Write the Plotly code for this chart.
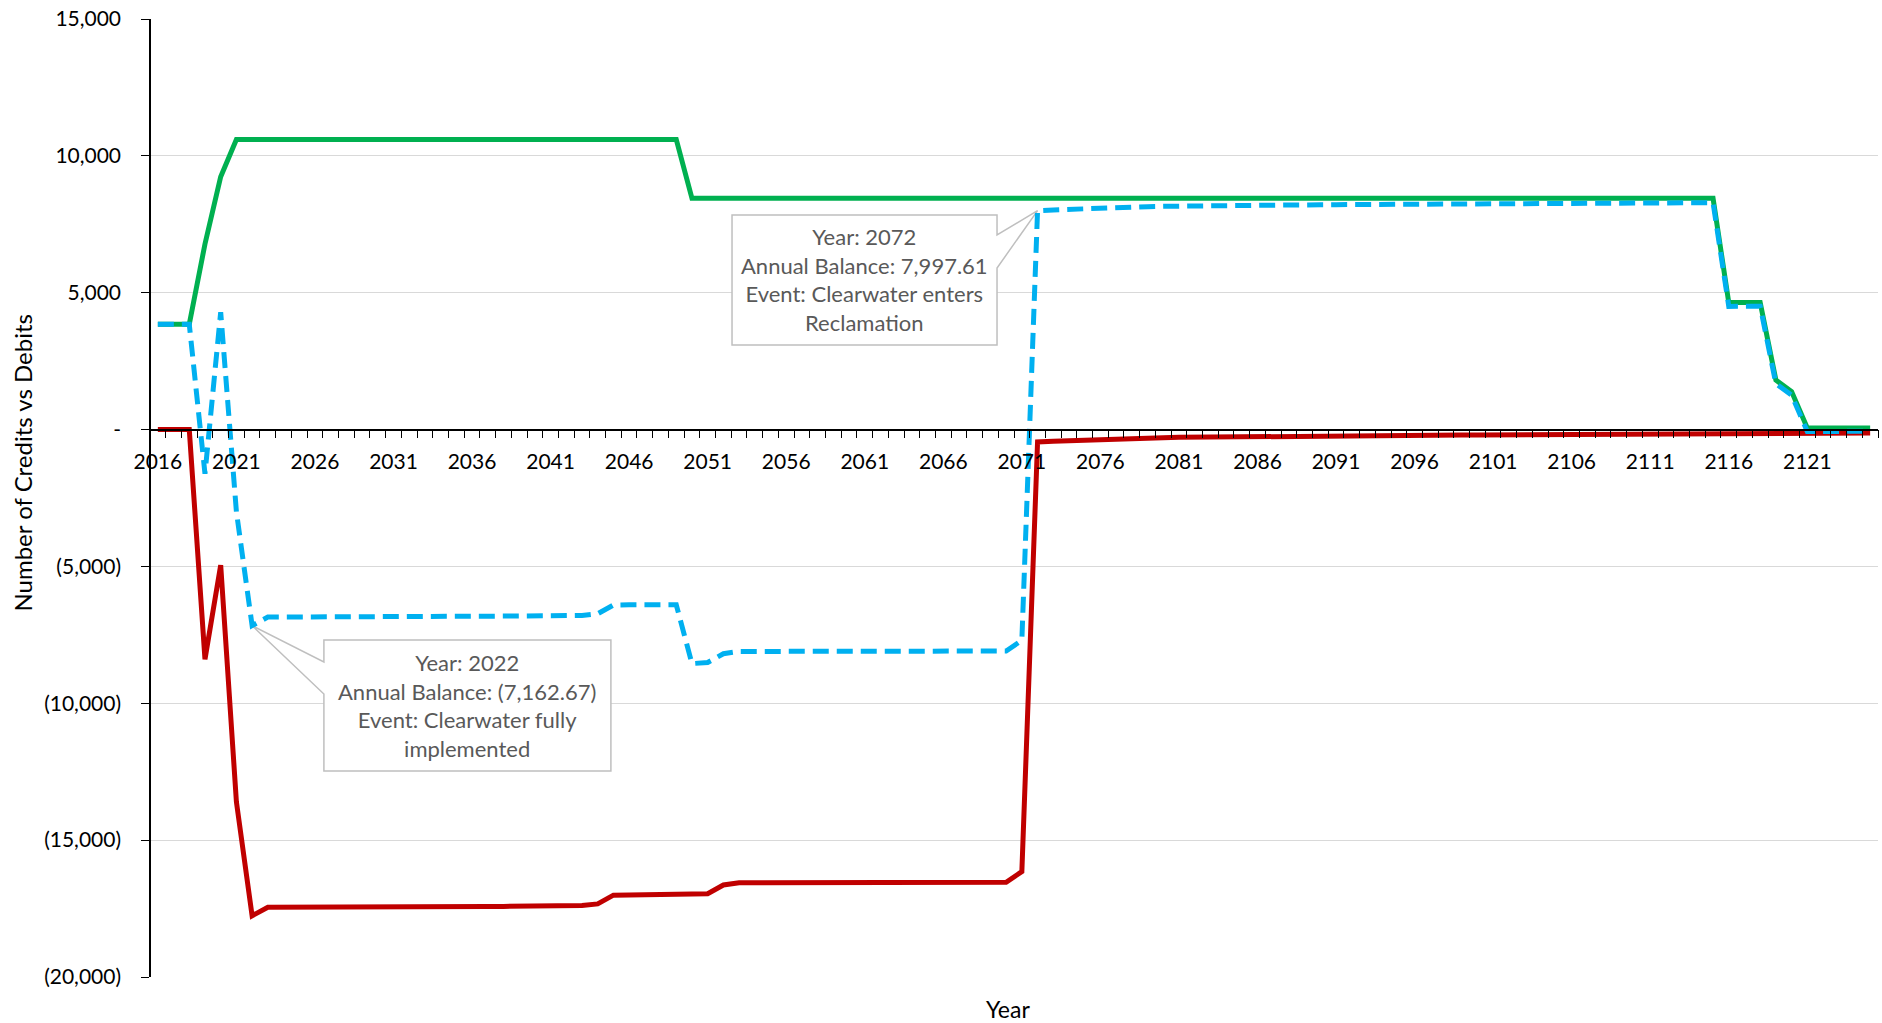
import plotly.graph_objects as go

# ---- data ----
years = list(range(2016, 2126))

credits = [
    3850, 3850, 3850, 6780, 9240, 10600, 10600, 10600, 10600, 10600,          # 2016-2025
    10600, 10600, 10600, 10600, 10600, 10600, 10600, 10600, 10600, 10600,     # 2026-2035
    10600, 10600, 10600, 10600, 10600, 10600, 10600, 10600, 10600, 10600,     # 2036-2045
    10600, 10600, 10600, 10600, 8450, 8450, 8450, 8450, 8450, 8450,           # 2046-2055
    8450, 8450, 8450, 8450, 8450, 8450, 8450, 8450, 8450, 8450,               # 2056-2065
    8450, 8450, 8450, 8450, 8450, 8450, 8450, 8450, 8450, 8450,               # 2066-2075
    8450, 8450, 8450, 8450, 8450, 8450, 8450, 8450, 8450, 8450,               # 2076-2085
    8450, 8450, 8450, 8450, 8450, 8450, 8450, 8450, 8450, 8450,               # 2086-2095
    8450, 8450, 8450, 8450, 8450, 8450, 8450, 8450, 8450, 8450,               # 2096-2105
    8450, 8450, 8450, 8450, 8450, 8450, 8450, 8450, 8450, 8450,               # 2106-2115
    4640, 4640, 4640, 1810, 1390, 60, 60, 60, 60, 60,                         # 2116-2125
]

debits = [
    0, 0, 0, -8390, -4950, -13600, -17762.67, -17450, -17445, -17445,
    -17440, -17440, -17420, -17420, -17420, -17420, -17420, -17420, -17420, -17420,
    -17420, -17420, -17420, -17420, -17410, -17410, -17405, -17390, -17330, -17010,
    -17000, -17000, -17000, -17000, -17000, -16960, -16640, -16555, -16555, -16555,
    -16555, -16555, -16555, -16555, -16555, -16555, -16555, -16555, -16555, -16555,
    -16555, -16555, -16555, -16555, -16540, -16150, -452.39, -425, -400, -375,
    -350, -335, -320, -305, -295, -285, -278, -272, -266, -260,
    -255, -250, -245, -240, -236, -232, -228, -224, -220, -216,
    -212, -208, -205, -202, -199, -196, -193, -190, -187, -184,
    -181, -178, -175, -172, -170, -168, -166, -164, -162, -160,
    -140, -138, -136, -134, -132, -130, -128, -126, -124, -122,
]

balance = [
    3850, 3850, 3850, -1610, 4290, -3000, -7162.67, -6850, -6845, -6845,
    -6840, -6840, -6820, -6820, -6820, -6820, -6820, -6820, -6820, -6820,
    -6820, -6820, -6820, -6820, -6810, -6810, -6805, -6790, -6730, -6410,
    -6400, -6400, -6400, -6400, -8550, -8510, -8190, -8105, -8105, -8105,
    -8105, -8105, -8105, -8105, -8105, -8105, -8105, -8105, -8105, -8105,
    -8105, -8105, -8105, -8105, -8090, -7700, 7997.61, 8025, 8050, 8075,
    8100, 8115, 8130, 8145, 8155, 8165, 8172, 8178, 8184, 8190,
    8195, 8200, 8205, 8210, 8214, 8218, 8222, 8226, 8230, 8234,
    8238, 8242, 8245, 8248, 8251, 8254, 8257, 8260, 8263, 8266,
    8269, 8272, 8275, 8278, 8280, 8282, 8284, 8286, 8288, 8290,
    4500, 4502, 4504, 1676, 1258, -70, -68, -66, -64, -62,
]

y_tickvals = [15000, 10000, 5000, 0, -5000, -10000, -15000, -20000]
y_ticktext = ["15,000", "10,000", "5,000", "-", "(5,000)", "(10,000)", "(15,000)", "(20,000)"]
x_tickvals = list(range(2016, 2122, 5))
x_ticktext = [str(v) for v in x_tickvals]

FONT = "Lato, 'Open Sans', Arial, sans-serif"
CALLOUT_TEXT = "#595959"
CALLOUT_LINE = "#BFBFBF"

fig = go.Figure()
fig.add_trace(go.Scatter(x=years, y=credits, mode='lines', name='Credits',
                         line=dict(color='#00B050', width=5)))
fig.add_trace(go.Scatter(x=years, y=debits, mode='lines', name='Debits',
                         line=dict(color='#C00000', width=5)))
fig.add_trace(go.Scatter(x=years, y=balance, mode='lines', name='Annual Balance',
                         line=dict(color='#00B0F0', width=5, dash='16px,8px')))

# callout boxes (in data units)
box1 = dict(x0=2052.55, x1=2069.42, y0=3091, y1=7840, w0=5904, w1=7110, tip=(2072, 7997.61))
box2 = dict(x0=2026.57, x1=2044.84, y0=-12473, y1=-7687, w0=-9660, w1=-8491, tip=(2022, -7162.67))

p1 = (f"M {box1['x0']},{box1['y1']} L {box1['x1']},{box1['y1']} L {box1['x1']},{box1['w1']} "
      f"L {box1['tip'][0]},{box1['tip'][1]} L {box1['x1']},{box1['w0']} L {box1['x1']},{box1['y0']} "
      f"L {box1['x0']},{box1['y0']} Z")
p2 = (f"M {box2['x0']},{box2['y1']} L {box2['x1']},{box2['y1']} L {box2['x1']},{box2['y0']} "
      f"L {box2['x0']},{box2['y0']} L {box2['x0']},{box2['w0']} L {box2['tip'][0]},{box2['tip'][1]} "
      f"L {box2['x0']},{box2['w1']} Z")
for p in (p1, p2):
    fig.add_shape(type='path', path=p, xref='x', yref='y', layer='between',
                  fillcolor='white', line=dict(color=CALLOUT_LINE, width=1.5))

fig.add_annotation(x=(box1['x0'] + box1['x1']) / 2, y=(box1['y0'] + box1['y1']) / 2,
                   xref='x', yref='y', showarrow=False, align='center',
                   text="Year: 2072<br>Annual Balance: 7,997.61<br>Event: Clearwater enters<br>Reclamation",
                   font=dict(family=FONT, size=22, color=CALLOUT_TEXT))
fig.add_annotation(x=(box2['x0'] + box2['x1']) / 2, y=(box2['y0'] + box2['y1']) / 2,
                   xref='x', yref='y', showarrow=False, align='center',
                   text="Year: 2022<br>Annual Balance: (7,162.67)<br>Event: Clearwater fully<br>implemented",
                   font=dict(family=FONT, size=22, color=CALLOUT_TEXT))

# axis titles
fig.add_annotation(x=-0.0735, y=0.537, xref='paper', yref='paper', showarrow=False,
                   xanchor='center', yanchor='middle',
                   text="Number of Credits vs Debits", textangle=-90,
                   font=dict(family=FONT, size=24, color='#000000'))
fig.add_annotation(x=0.4965, y=-0.033, xref='paper', yref='paper', showarrow=False,
                   xanchor='center', yanchor='middle',
                   text="Year", font=dict(family=FONT, size=23, color='#000000'))

fig.update_layout(
    width=1882, height=1023,
    margin=dict(l=150, r=4, t=19, b=46),
    paper_bgcolor='white', plot_bgcolor='white',
    showlegend=False,
    font=dict(family=FONT, size=21, color='#000000'),
    xaxis=dict(
        range=[2015.5, 2125.5], anchor='free', position=20000 / 35000,
        tickmode='array', tickvals=x_tickvals, ticktext=x_ticktext,
        ticks='outside', ticklen=8, tickcolor='rgba(0,0,0,0)', ticklabelstandoff=5,
        minor=dict(tick0=2015.5, dtick=1, ticks='outside', ticklen=8, tickcolor='#000000', tickwidth=1.3),
        showgrid=False, zeroline=False,
        showline=True, linecolor='#000000', linewidth=1.5,
        tickfont=dict(family=FONT, size=21, color='#000000'),
    ),
    yaxis=dict(
        range=[-20000, 15000], anchor='free', position=0,
        tickmode='array', tickvals=y_tickvals, ticktext=y_ticktext,
        ticks='outside', ticklen=8, tickcolor='#000000', tickwidth=1.3,
        ticklabelstandoff=16,
        showgrid=True, gridcolor='#D9D9D9', gridwidth=1.3, zeroline=False,
        showline=True, linecolor='#000000', linewidth=1.5,
        tickfont=dict(family=FONT, size=21, color='#000000'),
    ),
)

fig.write_html("out.html", config={'displayModeBar': False},
               post_script="document.body.style.margin='0';document.body.style.overflow='hidden';")
